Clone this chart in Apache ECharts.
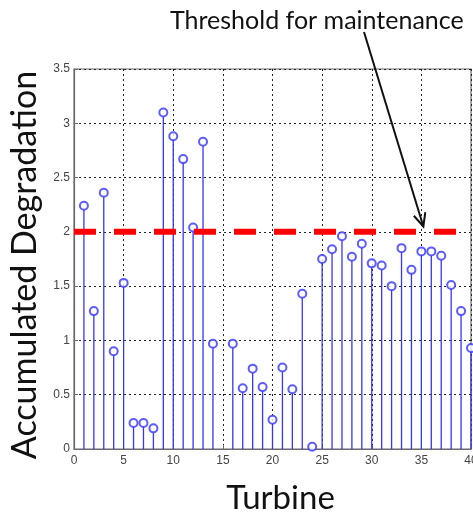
<!DOCTYPE html>
<html>
<head>
<meta charset="utf-8">
<script src="https://cdn.jsdelivr.net/npm/echarts@6/dist/echarts.min.js"></script>
<style>
html,body{margin:0;padding:0;background:#fff;}
#chart{width:473px;height:515px;}
</style>
</head>
<body>
<div id="chart"></div>
<script>
// Data
var turbines = [1,2,3,4,5,6,7,8,9,10,11,12,13,14,16,17,18,19,20,21,22,23,24,25,26,27,28,29,30,31,32,33,34,35,36,37,38,39,40];
var degradation = [2.24,1.27,2.36,0.90,1.53,0.24,0.24,0.19,3.10,2.88,2.67,2.04,2.83,0.97,0.97,0.56,0.74,0.57,0.27,0.75,0.55,1.43,0.02,1.75,1.84,1.96,1.77,1.89,1.71,1.69,1.50,1.85,1.65,1.82,1.82,1.78,1.51,1.27,0.93];
var threshold = 2;
var xTicks = [0,5,10,15,20,25,30,35,40];
var yTicks = [0,0.5,1,1.5,2,2.5,3,3.5];
var annotationText = 'Threshold for maintenance';
var arrowTarget = [35.2, 2.05];

var points = turbines.map(function(t, i){ return [t, degradation[i]]; });
var blue = '#3535ff';

var chart = echarts.init(document.getElementById('chart'), null, {renderer:'canvas'});
var gridStyle = {show:true, lineStyle:{color:'#222', type:[2,3], width:1}};
var option = {
  animation:false,
  grid:{left:74, top:69, right:2, bottom:66, show:true, borderColor:'#6a6a6a', borderWidth:1.2,
    backgroundColor:'transparent', containLabel:false, outerBoundsMode:'none'},
  xAxis:{
    type:'value', min:xTicks[0], max:xTicks[xTicks.length-1], interval:xTicks[1]-xTicks[0],
    name:'Turbine', nameLocation:'middle', nameGap:33,
    nameTextStyle:{fontFamily:'Lato', fontSize:33, color:'#111', padding:[0,0,0,16]},
    axisLine:{show:true, lineStyle:{color:'#6a6a6a', width:1.2}},
    axisTick:{show:true, inside:true, length:4, lineStyle:{color:'#6a6a6a'}},
    axisLabel:{fontFamily:'Liberation Sans', fontSize:12, color:'#444', margin:6, showMaxLabel:true, showMinLabel:true},
    splitLine:gridStyle
  },
  yAxis:{
    type:'value', min:yTicks[0], max:yTicks[yTicks.length-1], interval:yTicks[1]-yTicks[0],
    name:'Accumulated Degradation', nameLocation:'middle', nameGap:32,
    nameTextStyle:{fontFamily:'Lato', fontSize:34, color:'#111', padding:[0,12,0,0]},
    axisLine:{show:true, lineStyle:{color:'#6a6a6a', width:1.2}},
    axisTick:{show:true, inside:true, length:4, lineStyle:{color:'#6a6a6a'}},
    axisLabel:{fontFamily:'Liberation Sans', fontSize:12, color:'#444', margin:4,
      formatter:function(v){ return String(v); }},
    splitLine:gridStyle
  },
  series:[
    {
      type:'custom', name:'stems', data:points, z:3,
      renderItem:function(params, api){
        var top = api.coord([api.value(0), api.value(1)]);
        var base = api.coord([api.value(0), 0]);
        return {type:'line', shape:{x1:top[0], y1:top[1]+4, x2:base[0], y2:base[1]},
          style:{stroke:blue, lineWidth:1.3}};
      }
    },
    {
      type:'scatter', name:'markers', data:points, symbol:'emptyCircle', symbolSize:8, z:4,
      itemStyle:{color:blue, borderColor:blue, borderWidth:1.3}
    },
    {
      type:'line', name:'threshold', data:[[xTicks[0], threshold],[xTicks[xTicks.length-1], threshold]],
      symbol:'none', z:5,
      lineStyle:{color:'#ff0000', width:6, type:[22,18]}
    }
  ]
};
chart.setOption(option);

var tip = chart.convertToPixel({gridIndex:0}, arrowTarget);
var start = [364, 32];
var dx = tip[0]-start[0], dy = tip[1]-start[1];
var len = Math.sqrt(dx*dx+dy*dy), ux = dx/len, uy = dy/len;
var hl = 13, hw = 6;
var h1 = [tip[0]-ux*hl - uy*hw, tip[1]-uy*hl + ux*hw];
var h2 = [tip[0]-ux*hl + uy*hw, tip[1]-uy*hl - ux*hw];
chart.setOption({
  graphic:[
    {type:'text', left:170, top:8, z:10,
      style:{text:annotationText, font:'25px Lato', fill:'#111'}},
    {type:'line', z:10, shape:{x1:start[0], y1:start[1], x2:tip[0], y2:tip[1]},
      style:{stroke:'#111', lineWidth:2}},
    {type:'polyline', z:10, shape:{points:[h1, tip, h2]},
      style:{stroke:'#111', lineWidth:2, fill:null}}
  ]
});
</script>
</body>
</html>
